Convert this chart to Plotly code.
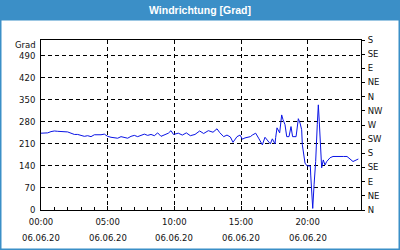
import plotly.graph_objects as go

# ---- data ----
hours = [0.0, 0.25, 0.5, 0.75, 1.0, 1.25, 1.5, 1.75, 2.0, 2.25, 2.5, 2.75, 3.0, 3.25, 3.5, 3.75,
         4.0, 4.25, 4.5, 4.75, 5.0, 5.25, 5.5, 5.75, 6.0, 6.25, 6.5, 6.75, 7.0, 7.25, 7.5, 7.75,
         8.0, 8.25, 8.5, 8.75, 9.0, 9.25, 9.55, 9.75, 9.93, 10.3, 10.6, 10.9, 11.2, 11.55, 11.9,
         12.2, 12.55, 12.9, 13.2, 13.4, 13.7, 13.95, 14.2, 14.4, 14.7, 14.93, 15.1, 15.3, 15.7,
         15.85, 16.1, 16.35, 16.6, 16.8, 17.0, 17.2, 17.35, 17.55, 17.6, 17.7, 17.9, 18.05, 18.15,
         18.3, 18.43, 18.6, 18.75, 18.87, 19.13, 19.3, 19.43, 19.55, 19.6, 19.73, 19.8, 19.95,
         20.2, 20.23, 20.38, 20.48, 20.6, 20.72, 20.8, 20.87, 20.98, 21.05, 21.17, 21.3, 21.43,
         21.68, 21.9, 22.3, 22.7, 22.95, 23.18, 23.4, 23.7, 23.8]
degrees = [244, 244, 245, 249, 251, 250, 249, 249, 248, 244, 240, 240, 237, 234, 236, 233,
           239, 238, 239, 241, 234, 231, 230, 228, 233, 230, 228, 234, 237, 233, 238, 241,
           237, 240, 236, 245, 234, 238, 244, 252, 240, 244, 238, 245, 236, 240, 251,
           243, 252, 247, 258, 246, 233, 238, 232, 215, 233, 238, 225, 229, 233,
           238, 244, 226, 207, 231, 220, 210, 226, 210, 230, 261, 245, 302, 287,
           271, 233, 233, 265, 233, 233, 290, 276, 255, 207, 170, 149, 140,
           140, 111, 5, 80, 154, 271, 334, 281, 154, 134, 159, 143, 154,
           166, 170, 171, 170, 170, 163, 154, 160, 162]

left_ticks = [0, 70, 140, 210, 280, 350, 420, 490]
dir_vals = [0, 45, 90, 135, 180, 225, 270, 315, 360, 405, 450, 495, 540]
dir_labels = ["N", "NE", "E", "SE", "S", "SW", "W", "NW", "N", "NE", "E", "SE", "S"]
x_ticks = [0, 5, 10, 15, 20]
time_labels = ["00:00", "05:00", "10:00", "15:00", "20:00"]
date_labels = ["06.06.20"] * 5
title_text = "Windrichtung [Grad]"
unit_text = "Grad"

FONT = "DejaVu Sans"
BLUE = "#3b8fc7"
TXT = "#111111"

fig = go.Figure()
fig.add_trace(go.Scatter(x=hours, y=degrees, mode="lines",
                         line=dict(color="#0a14e6", width=1), showlegend=False,
                         hoverinfo="skip"))
# invisible companion for right axis
fig.add_trace(go.Scatter(x=[hours[0]], y=[dir_vals[0]], yaxis="y2", mode="lines",
                         line=dict(width=0), showlegend=False, hoverinfo="skip"))

W, H = 400, 250
L, R, T, B = 41, 39, 40, 40
pw, ph = W - L - R, H - T - B

def px(x):
    return (x - L) / pw

def py(y):
    return (H - B - y) / ph

fig.update_layout(
    width=W, height=H,
    margin=dict(l=L, r=R, t=T, b=B, pad=0),
    paper_bgcolor="white", plot_bgcolor="white",
    font=dict(family=FONT, size=8.5, color=TXT),
    xaxis=dict(range=[0, 24], tickvals=x_ticks, ticktext=time_labels,
               showgrid=True, gridcolor="black", griddash="4px,3px", gridwidth=1,
               showline=True, linecolor="black", linewidth=1, mirror=True,
               ticks="inside", ticklen=4, tickcolor="black",
               minor=dict(dtick=1, ticks="inside", ticklen=3, tickcolor="black", showgrid=False),
               zeroline=False, ticklabelstandoff=4),
    yaxis=dict(range=[0, 540], tickvals=left_ticks,
               showgrid=True, gridcolor="black", griddash="4px,3px", gridwidth=1,
               showline=True, linecolor="black", linewidth=1, mirror=True,
               ticks="", zeroline=False, ticklabelstandoff=3),
    yaxis2=dict(range=[0, 540], tickvals=dir_vals, ticktext=dir_labels,
                overlaying="y", side="right", showgrid=False, zeroline=False,
                showline=False, ticks="outside", ticklen=3, tickcolor="black",
                ticklabelstandoff=1),
)

shapes = [
    dict(type="rect", xref="paper", yref="paper", x0=px(0), x1=px(400), y0=py(250), y1=py(0),
         line=dict(color=BLUE, width=3), fillcolor="rgba(0,0,0,0)", layer="above"),
    dict(type="rect", xref="paper", yref="paper", x0=px(0), x1=px(400), y0=py(20.5), y1=py(0),
         line=dict(width=0), fillcolor=BLUE, layer="above"),
]
fig.update_layout(shapes=shapes)

annotations = [
    dict(text="<b>" + title_text + "</b>", xref="paper", yref="paper", x=px(200), y=py(10.5),
         showarrow=False, font=dict(family="Liberation Sans", size=10.5, color="white"),
         xanchor="center", yanchor="middle"),
    dict(text=unit_text, xref="paper", yref="paper", x=px(38), y=py(45),
         showarrow=False, xanchor="right", yanchor="middle"),
]
for xv, d in zip(x_ticks, date_labels):
    annotations.append(dict(text=d, x=xv, xref="x", yref="paper", y=py(238),
                            showarrow=False, xanchor="center", yanchor="middle"))
fig.update_layout(annotations=annotations)

fig.write_html("out.html")
